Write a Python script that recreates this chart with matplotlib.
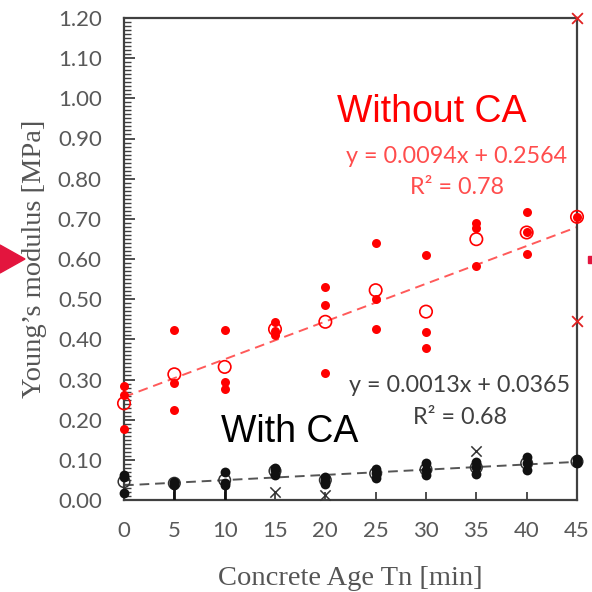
import numpy as np
import matplotlib
matplotlib.use("Agg")
import matplotlib.pyplot as plt
from matplotlib.patches import Polygon, Rectangle
from matplotlib.ticker import MultipleLocator, FormatStrFormatter

# Concrete age (min)
ages = [0, 5, 10, 15, 20, 25, 30, 35, 40, 45]

# Young's modulus without CA: three specimens per age (45 min has one)
red_ages = [0, 0, 0, 5, 5, 5, 10, 10, 10, 15, 15, 15, 20, 20, 20,
            25, 25, 25, 30, 30, 30, 35, 35, 35, 40, 40, 40, 45]
red_vals = [0.284, 0.261, 0.177, 0.423, 0.292, 0.224, 0.423, 0.295, 0.276,
            0.444, 0.421, 0.411, 0.531, 0.485, 0.315, 0.641, 0.500, 0.426,
            0.610, 0.419, 0.378, 0.689, 0.676, 0.583, 0.718, 0.668, 0.612,
            0.705]
red_out_ages = [45, 45]
red_out_vals = [1.20, 0.446]

# Young's modulus with CA
blk_ages = [0, 0, 0, 5, 5, 5, 10, 10, 10, 15, 15, 15, 20, 20, 20,
            25, 25, 25, 30, 30, 30, 35, 35, 35, 40, 40, 40, 45, 45, 45]
blk_vals = [0.062, 0.058, 0.017, 0.045, 0.042, 0.038, 0.070, 0.042, 0.037,
            0.080, 0.075, 0.062, 0.058, 0.050, 0.041, 0.076, 0.066, 0.056,
            0.091, 0.075, 0.062, 0.095, 0.083, 0.065, 0.108, 0.091, 0.075,
            0.101, 0.095, 0.091]
blk_out_ages = [15, 20, 35]
blk_out_vals = [0.020, 0.012, 0.123]

# Linear fits (slope, intercept, R^2)
fit_red = (0.0094, 0.2564, 0.78)
fit_blk = (0.0013, 0.0365, 0.68)

RED = "#ff0000"
RED_LINE = "#ff5a5a"
BLK = "#111111"
GRAY_TXT = "#404040"

W = H = 592
fig = plt.figure(figsize=(5.92, 5.92), dpi=100)
fig.patch.set_facecolor("white")

def px(x0, y0, x1, y1):
    return [x0 / W, 1 - y1 / H, (x1 - x0) / W, (y1 - y0) / H]

ax = fig.add_axes(px(124, 18, 577, 500))
ax.set_xlim(0, 45)
ax.set_ylim(0, 1.2)

red_ages_a = np.array(red_ages)
red_vals_a = np.array(red_vals)
blk_ages_a = np.array(blk_ages)
blk_vals_a = np.array(blk_vals)

red_means = [red_vals_a[red_ages_a == a].mean() for a in ages]
blk_means = [blk_vals_a[blk_ages_a == a].mean() for a in ages]
blk_mins = [blk_vals_a[blk_ages_a == a].min() for a in ages]

xx = np.array([0, 45])
ax.plot(xx, fit_red[0] * xx + fit_red[1], color=RED_LINE, lw=1.4,
        ls=(0, (5, 3)), zorder=2, clip_on=False)
ax.plot(xx, fit_blk[0] * xx + fit_blk[1], color="#555555", lw=1.4,
        ls=(0, (5, 3)), zorder=2, clip_on=False)

# stems below the CA points at 5 and 10 min
ax.vlines([ages[1], ages[2]], 0, [blk_mins[1], blk_mins[2]], color=BLK,
          lw=2.0, zorder=3)

ax.scatter(red_ages, red_vals, s=42, color=RED, zorder=4, clip_on=False,
           linewidths=0)
ax.scatter(ages, red_means, s=80, facecolors="none", edgecolors=RED,
           linewidths=1.2, zorder=5, clip_on=False)
ax.scatter(red_out_ages, red_out_vals, s=60, marker="x", color="#e02020",
           linewidths=1.3, zorder=5, clip_on=False)

ax.scatter(ages, blk_means, s=70, facecolors="none", edgecolors="#333333",
           linewidths=1.1, zorder=3, clip_on=False)
ax.scatter(blk_ages, blk_vals, s=50, color=BLK, zorder=4, clip_on=False,
           linewidths=0)
ax.scatter(blk_out_ages, blk_out_vals, s=55, marker="x", color="#333333",
           linewidths=1.1, zorder=5, clip_on=False)

# axes styling
for sp in ax.spines.values():
    sp.set_color("#404040")
    sp.set_linewidth(1.6)
ax.xaxis.set_major_locator(MultipleLocator(5))
ax.yaxis.set_major_locator(MultipleLocator(0.1))
ax.yaxis.set_minor_locator(MultipleLocator(0.01))
ax.yaxis.set_major_formatter(FormatStrFormatter("%.2f"))
ax.tick_params(axis="y", which="major", direction="in", length=8, width=1.3,
               color="#404040", pad=16, labelsize=16, labelcolor="#595959")
ax.tick_params(axis="y", which="minor", direction="in", length=5, width=1.0,
               color="#404040")
ax.tick_params(axis="x", which="major", direction="in", length=6, width=1.3,
               color="#404040", pad=15, labelsize=16, labelcolor="#595959")
for lab in ax.get_xticklabels() + ax.get_yticklabels():
    lab.set_family("Lato")

ax.set_xlabel("Concrete Age Tn [min]", family="Liberation Serif",
              fontsize=20.5, color="#555555", labelpad=18)
ax.set_ylabel("Young\u2019s modulus [MPa]", family="Liberation Serif",
              fontsize=20.5, color="#555555", labelpad=8)

# annotations
fig.text(432 / W, 1 - 112 / H, "Without CA", color=RED, fontsize=27,
         family="Liberation Sans", ha="center", va="center")
fig.text(290 / W, 1 - 432 / H, "With CA", color="black", fontsize=27,
         family="Liberation Sans", ha="center", va="center")
fig.text(457 / W, 1 - 157 / H,
         "y = {:.4f}x + {:.4f}".format(fit_red[0], fit_red[1]),
         color="#ff4d4d", fontsize=16.8, family="Lato", ha="center",
         va="center")
fig.text(457 / W, 1 - 187 / H, "R\u00b2 = {:.2f}".format(fit_red[2]),
         color="#ff4d4d", fontsize=16.8, family="Lato", ha="center",
         va="center")
fig.text(460 / W, 1 - 385 / H,
         "y = {:.4f}x + {:.4f}".format(fit_blk[0], fit_blk[1]),
         color=GRAY_TXT, fontsize=16.8, family="Lato", ha="center",
         va="center")
fig.text(460 / W, 1 - 418 / H, "R\u00b2 = {:.2f}".format(fit_blk[2]),
         color=GRAY_TXT, fontsize=16.8, family="Lato", ha="center",
         va="center")

# connector arrow heads at the page edges
fig.patches.append(Polygon([(0 / W, 1 - 245 / H), (25 / W, 1 - 259 / H),
                            (0 / W, 1 - 273 / H)], closed=True,
                           transform=fig.transFigure, color="#e3153e"))
fig.patches.append(Rectangle((588 / W, 1 - 263 / H), 4 / W, 7 / H,
                             transform=fig.transFigure, color="#e3153e"))

fig.savefig("out.png", dpi=100, facecolor="white")
